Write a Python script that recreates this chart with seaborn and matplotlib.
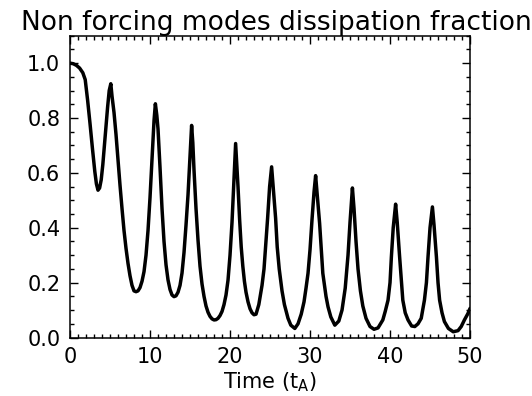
import matplotlib
matplotlib.use("Agg")
import matplotlib.pyplot as plt
import seaborn as sns
import pandas as pd
from matplotlib.ticker import MultipleLocator

# ======================================================
# DATA
# ======================================================

time = [
    0.0, 0.4, 0.8, 1.2, 1.6, 1.9, 2.2, 2.5, 2.8, 3.1, 3.3, 3.5, 3.7,
    3.9, 4.1, 4.3, 4.5, 4.7, 4.9, 5.1,
    5.25, 5.5, 5.75, 6.0, 6.25, 6.5, 6.75, 7.0, 7.25, 7.5, 7.75, 8.0, 8.25,
    8.5, 8.75, 9.0, 9.25, 9.5, 9.75, 10.0, 10.25, 10.5, 10.67,
    10.85, 11.0, 11.25, 11.5, 11.75, 12.0, 12.25, 12.5, 12.75, 13.0, 13.25,
    13.5, 13.75, 14.0, 14.25, 14.5, 14.75, 15.0, 15.2,
    15.35, 15.5, 15.75, 16.0, 16.25, 16.5, 16.75, 17.0, 17.25, 17.5, 17.75,
    18.0, 18.25, 18.5, 18.75, 19.0, 19.25, 19.5, 19.75, 20.0, 20.25, 20.5, 20.7,
    20.85, 21.0, 21.2, 21.4, 21.6, 21.8, 22.0, 22.25, 22.5, 22.75, 23.0,
    23.25, 23.6, 24.0, 24.25, 24.5, 24.7, 24.95, 25.2,
    25.45, 25.7, 25.9, 26.15, 26.5, 26.8, 27.25, 27.6, 28.1,
    28.5, 28.9, 29.25, 29.5, 29.75, 30.0, 30.25, 30.5, 30.7,
    30.9, 31.2, 31.6, 32.0, 32.25, 32.6, 33.1,
    33.6, 34.0, 34.4, 34.75, 35.0, 35.3,
    35.5, 35.75, 36.0, 36.3, 36.6, 37.0, 37.5, 38.0,
    38.5, 39.1, 39.4, 39.75, 40.0, 40.17, 40.4, 40.7,
    40.9, 41.2, 41.6, 41.9, 42.25, 42.7, 43.1,
    43.5, 43.9, 44.3, 44.55, 44.75, 45.0, 45.3,
    45.5, 45.8, 46.0, 46.2, 46.5, 46.8, 47.3, 47.9,
    48.5, 48.9, 49.3, 49.75, 50.0,
]

fraction = [
    1.0, 0.998, 0.992, 0.982, 0.965, 0.94, 0.865, 0.78, 0.69, 0.605, 0.56, 0.537, 0.545,
    0.575, 0.63, 0.70, 0.77, 0.84, 0.90, 0.925,
    0.88, 0.82, 0.74, 0.646, 0.555, 0.47, 0.39, 0.325, 0.27, 0.225, 0.19, 0.17, 0.167,
    0.17, 0.182, 0.205, 0.24, 0.30, 0.39, 0.51, 0.65, 0.79, 0.852,
    0.81, 0.76, 0.62, 0.47, 0.35, 0.265, 0.21, 0.175, 0.155, 0.149, 0.152,
    0.165, 0.19, 0.235, 0.31, 0.41, 0.52, 0.66, 0.773,
    0.71, 0.61, 0.47, 0.355, 0.26, 0.195, 0.15, 0.115, 0.092, 0.077, 0.068,
    0.064, 0.065, 0.07, 0.08, 0.095, 0.12, 0.155, 0.209, 0.30, 0.42, 0.58, 0.707,
    0.63, 0.549, 0.43, 0.33, 0.26, 0.205, 0.165, 0.13, 0.105, 0.09, 0.083,
    0.085, 0.12, 0.19, 0.25, 0.35, 0.435, 0.55, 0.622,
    0.53, 0.435, 0.33, 0.25, 0.17, 0.12, 0.07, 0.045, 0.033,
    0.05, 0.085, 0.13, 0.18, 0.234, 0.32, 0.43, 0.53, 0.59,
    0.52, 0.416, 0.234, 0.15, 0.112, 0.075, 0.045,
    0.06, 0.10, 0.18, 0.30, 0.42, 0.545,
    0.47, 0.35, 0.25, 0.17, 0.115, 0.07, 0.04, 0.03,
    0.035, 0.064, 0.095, 0.136, 0.20, 0.294, 0.40, 0.486,
    0.42, 0.294, 0.136, 0.09, 0.064, 0.042, 0.04,
    0.05, 0.07, 0.136, 0.20, 0.294, 0.40, 0.476,
    0.41, 0.294, 0.20, 0.136, 0.09, 0.058, 0.033, 0.021,
    0.025, 0.04, 0.064, 0.088, 0.106,
]

x_ticks = [0, 10, 20, 30, 40, 50]
y_ticks = [0.0, 0.2, 0.4, 0.6, 0.8, 1.0]

df = pd.DataFrame({"time": time, "fraction": fraction})

# ======================================================
# STYLE
# ======================================================

sns.set_style("ticks")
plt.rcParams["font.family"] = ["DejaVu Sans"]
plt.rcParams["axes.linewidth"] = 1.1
plt.rcParams["text.color"] = "black"
plt.rcParams["axes.labelcolor"] = "black"
plt.rcParams["xtick.color"] = "black"
plt.rcParams["ytick.color"] = "black"
plt.rcParams["axes.edgecolor"] = "black"

fig = plt.figure(figsize=(5.32, 3.96), dpi=100)
ax = fig.add_axes([0.1316, 0.1477, 0.8835 - 0.1316, 0.9098 - 0.1477])

sns.lineplot(
    data=df, x="time", y="fraction",
    color="black", linewidth=2.5,
    estimator=None, sort=False, ax=ax
)

ax.set_xlim(0, 50)
ax.set_ylim(0, 1.1)
ax.set_xticks(x_ticks)
ax.set_yticks(y_ticks)
ax.set_xticklabels([str(v) for v in x_ticks])
ax.set_yticklabels([f"{v:.1f}" for v in y_ticks])
ax.xaxis.set_minor_locator(MultipleLocator(1))
ax.yaxis.set_minor_locator(MultipleLocator(0.05))

for side in ["top", "right", "left", "bottom"]:
    ax.spines[side].set_visible(True)
    ax.spines[side].set_color("black")

ax.tick_params(which="both", direction="in", top=True, right=True,
               color="black", labelcolor="black", width=1.0)
ax.tick_params(which="major", length=5.5, labelsize=15, pad=7)
ax.tick_params(which="minor", length=2.8)

ax.set_xlabel("Time (t$_{\\mathrm{A}}$)", fontsize=15, labelpad=2, color="black")
ax.set_ylabel("")
ax.set_title("Non forcing modes dissipation fraction", fontsize=19, pad=3,
             x=0.515, color="black")

fig.savefig("out.png", dpi=100)
